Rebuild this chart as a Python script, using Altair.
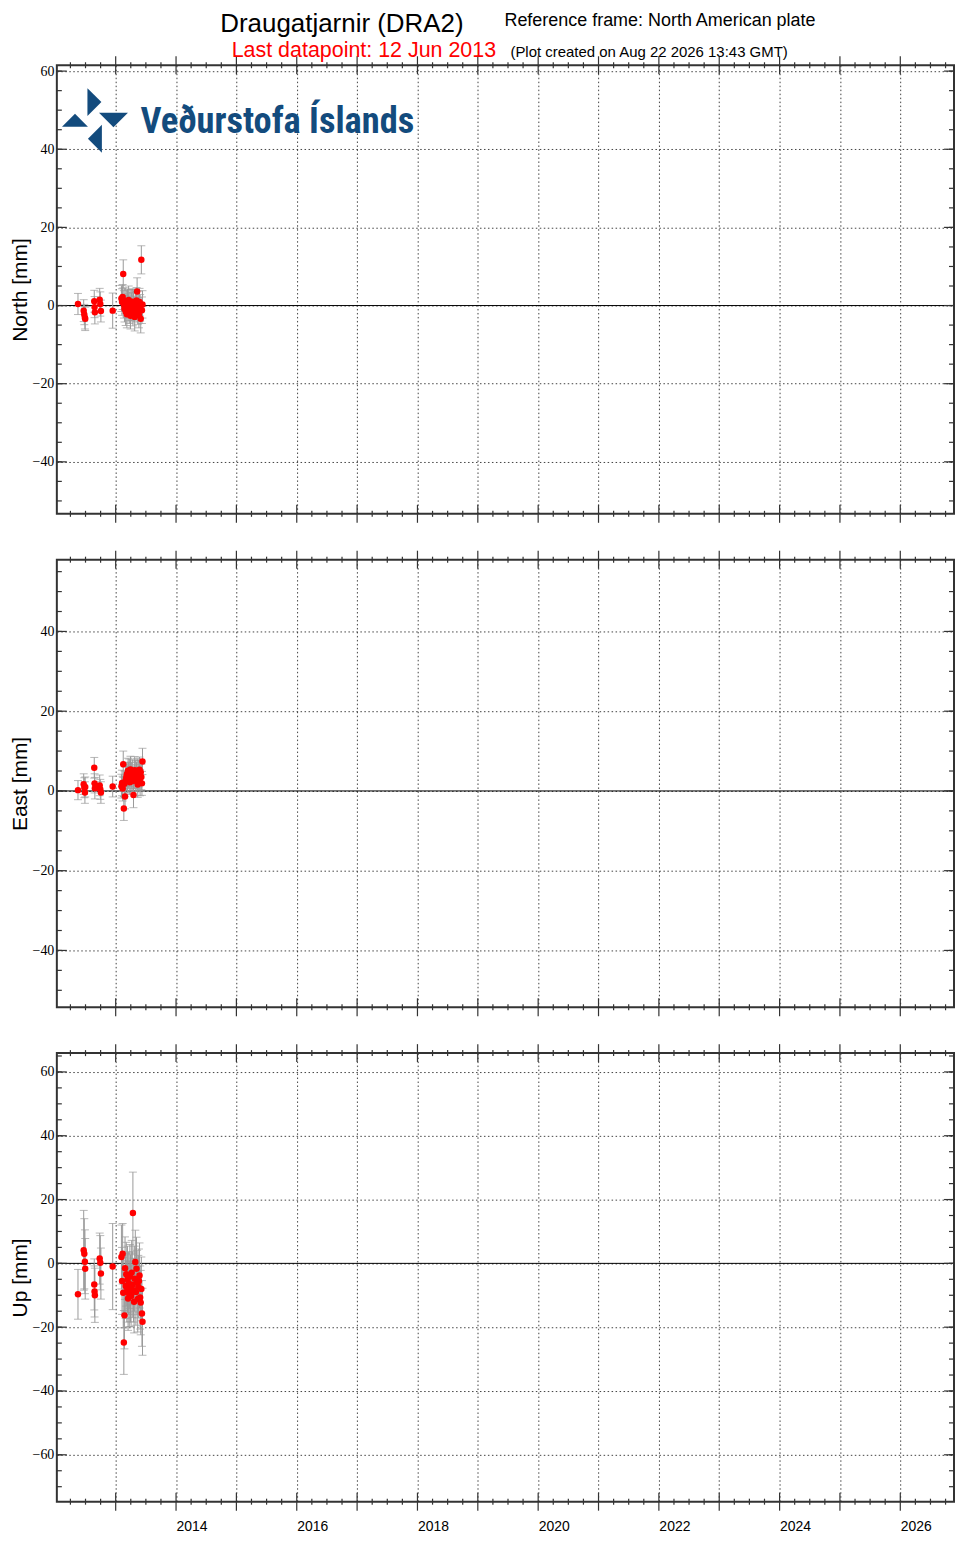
import altair as alt
import pandas as pd

# ---------------- data ----------------
dates = [2012.375, 2012.47, 2012.48, 2012.49, 2012.495, 2012.645, 2012.65, 2012.655,
         2012.735, 2012.745, 2012.755, 2012.95,
         2013.095, 2013.105, 2013.115, 2013.125, 2013.135, 2013.145, 2013.155, 2013.165,
         2013.175, 2013.185, 2013.195, 2013.205, 2013.215, 2013.225, 2013.235, 2013.245,
         2013.255, 2013.265, 2013.275, 2013.285, 2013.295, 2013.305, 2013.315, 2013.325,
         2013.335, 2013.345, 2013.355, 2013.365, 2013.375, 2013.385, 2013.395, 2013.405,
         2013.415, 2013.425, 2013.435, 2013.444]

north = [0.4, -1.3, -2.3, -3.1, -3.4, 1.1, -0.4, -1.7, 1.5, 0.4, -1.4, -1.3,
         1.8, 0.9, 2.2, 8.1, 0.3, -0.8, 1.2, -1.5, 0.5, -2.2, 0.8, -0.4,
         1.4, -1.1, 0.2, -2.6, 0.6, -0.3, 1.0, -1.8, 0.4, -0.9, -2.9, 0.7,
         -0.2, 1.3, 3.6, -1.4, 0.1, -2.4, 0.9, -0.6, -3.4, 11.7, -1.2, 0.3]
north_err = [2.7, 2.8, 2.6, 2.9, 3.0, 2.8, 2.7, 3.0, 2.9, 3.1, 2.8, 4.5,
             3.3, 3.4, 3.2, 3.6, 3.5, 3.4, 3.3, 3.6, 3.4, 3.5, 3.3, 3.4,
             3.6, 3.5, 3.3, 3.4, 3.5, 3.6, 3.3, 3.4, 3.5, 3.3, 3.6, 3.4,
             3.5, 3.3, 3.5, 3.4, 3.6, 3.3, 3.5, 3.4, 3.6, 3.6, 3.4, 3.5]

east = [0.2, 1.7, 0.8, -0.4, 1.0, 5.8, 1.9, 0.7, 1.4, 0.4, -0.4, 1.1,
        1.2, 2.0, 0.6, 6.7, -4.4, 1.8, -1.4, 2.6, 3.4, 4.2, 2.9, 5.1,
        3.8, 4.6, 2.2, 5.4, 3.1, 4.0, 4.8, 2.5, -1.0, 3.6, 5.2, 4.4,
        2.8, 3.9, 5.0, 1.6, 4.3, 3.2, 5.3, 2.1, 4.7, 3.5, 1.9, 7.4]
east_err = [2.4, 2.6, 2.5, 2.7, 2.5, 2.6, 2.4, 2.7, 2.6, 2.5, 2.7, 2.6,
            3.0, 3.2, 3.1, 3.3, 3.0, 3.2, 3.1, 3.4, 3.2, 3.0, 3.3, 3.1,
            3.2, 3.4, 3.0, 3.3, 3.1, 3.2, 3.0, 3.3, 3.2, 3.1, 3.4, 3.2,
            3.0, 3.3, 3.1, 3.2, 3.4, 3.0, 3.2, 3.3, 3.1, 3.2, 3.0, 3.3]

up = [-9.7, 4.1, 3.0, 0.5, -1.7, -6.6, -8.8, -10.0, 1.5, 0.2, -3.2, -1.0,
      2.0, -5.5, 3.0, -9.2, -24.8, -16.3, -1.5, -7.1, -3.4, -8.8, -5.0, -11.0,
      -6.2, -9.6, -4.1, -7.8, -10.2, -2.9, -6.7, 15.8, -8.4, -12.0, -4.8, 0.4,
      -9.0, -1.7, -6.0, -11.2, -7.3, -5.5, -3.8, -10.7, -12.3, -8.0, -15.7, -18.3]
up_err = [7.8, 12.5, 11.0, 10.0, 9.5, 8.0, 8.0, 8.5, 8.0, 8.5, 8.0, 13.5,
          10.0, 10.5, 9.5, 11.0, 10.0, 10.5, 9.8, 10.2, 10.0, 9.6, 10.4, 10.0,
          9.8, 10.2, 10.0, 10.5, 9.7, 10.1, 10.3, 12.8, 10.0, 9.8, 10.2, 10.0,
          10.4, 9.9, 10.1, 10.3, 9.8, 10.0, 10.2, 9.9, 10.1, 10.0, 10.3, 10.5]

year_ticks = list(range(2013, 2027))
quarter_ticks = [y + q / 4 for y in range(2012, 2027) for q in (1, 2, 3)]

north_major = [-40, -20, 0, 20, 40, 60]
north_minor = list(range(-50, 61, 5))
east_major = [-40, -20, 0, 20, 40]
east_minor = list(range(-50, 56, 5))
up_major = [-60, -40, -20, 0, 20, 40, 60]
up_minor = list(range(-70, 66, 5))

# ---------------- layout constants ----------------
W = 900
XDOM = [2012.025, 2026.89]
FRAME = "#333333"
GRIDC = "#222222"
SANS = "Liberation Sans"
SERIF = "Liberation Serif"
LOGO_BLUE = "#134b7d"

xs = alt.Scale(domain=XDOM, nice=False, zero=False)


def panel(vals, errs, title, domain, major, minor, height, show_labels, extra=None):
    df = pd.DataFrame({
        "date": dates,
        "val": vals,
        "lo": [v - e for v, e in zip(vals, errs)],
        "hi": [v + e for v, e in zip(vals, errs)],
    })
    ys = alt.Scale(domain=domain, nice=False, zero=False)
    x_axis = alt.Axis(values=year_ticks, grid=True, ticks=False, domain=False,
                      labels=show_labels, format="d",
                      labelExpr="datum.value % 2 == 0 ? datum.label : ''",
                      labelAlign="left", labelBaseline="top", labelPadding=18,
                      labelFont=SANS, labelFontSize=14, labelColor="black",
                      labelFlush=False, labelOverlap=False, labelBound=False,
                      gridDash=[1.5, 2.5], gridColor=GRIDC, gridOpacity=0.85)
    y_axis = alt.Axis(values=major, grid=True, ticks=False, domain=False, format="d",
                      labelFont=SERIF, labelFontSize=14, labelColor="black",
                      labelPadding=3, labelFlush=False, labelOverlap=False,
                      gridDash=[1.5, 2.5], gridColor=GRIDC, gridOpacity=0.85,
                      titleFont=SANS, titleFontSize=21,
                      titleFontWeight="normal", titleColor="black", titlePadding=2)

    def X(f):
        return alt.X(f, scale=xs, axis=x_axis, title=None)

    def Y(f):
        return alt.Y(f, scale=ys, axis=y_axis, title=title)

    base = alt.Chart(df)
    zero = alt.Chart(pd.DataFrame({"z": [0]})).mark_rule(color="black", strokeWidth=1).encode(
        y=Y("z:Q"))
    bars = base.mark_rule(color="#9a9a9a", strokeWidth=1).encode(
        x=X("date:Q"), y=Y("lo:Q"), y2="hi:Q")
    cap_lo = base.mark_tick(orient="horizontal", size=8, thickness=1, color="#9a9a9a").encode(
        x=X("date:Q"), y=Y("lo:Q"))
    cap_hi = base.mark_tick(orient="horizontal", size=8, thickness=1, color="#9a9a9a").encode(
        x=X("date:Q"), y=Y("hi:Q"))
    pts = base.mark_circle(color="#ff0000", size=42, opacity=1).encode(
        x=X("date:Q"), y=Y("val:Q"))

    xmaj = alt.Chart(pd.DataFrame({"t": year_ticks}))
    xmin = alt.Chart(pd.DataFrame({"t": quarter_ticks}))
    ymaj = alt.Chart(pd.DataFrame({"t": major}))
    ymin = alt.Chart(pd.DataFrame({"t": minor}))
    xe = X("t:Q")
    ye = Y("t:Q")
    tick_layers = [
        xmaj.mark_rule(color=FRAME, strokeWidth=1.2).encode(x=xe, y=alt.value(height - 9), y2=alt.value(height + 9)),
        xmaj.mark_rule(color=FRAME, strokeWidth=1.2).encode(x=xe, y=alt.value(-9), y2=alt.value(9)),
        xmin.mark_rule(color=FRAME, strokeWidth=1.2).encode(x=xe, y=alt.value(height - 3), y2=alt.value(height + 3)),
        xmin.mark_rule(color=FRAME, strokeWidth=1.2).encode(x=xe, y=alt.value(-3), y2=alt.value(3)),
        ymaj.mark_rule(color=FRAME, strokeWidth=1.2).encode(y=ye, x=alt.value(0), x2=alt.value(10)),
        ymaj.mark_rule(color=FRAME, strokeWidth=1.2).encode(y=ye, x=alt.value(W - 10), x2=alt.value(W)),
        ymin.mark_rule(color=FRAME, strokeWidth=1.2).encode(y=ye, x=alt.value(0), x2=alt.value(5)),
        ymin.mark_rule(color=FRAME, strokeWidth=1.2).encode(y=ye, x=alt.value(W - 5), x2=alt.value(W)),
    ]
    layers = [zero, bars, cap_lo, cap_hi, pts] + tick_layers + (extra or [])
    return alt.layer(*layers).properties(width=W, height=height)


one = pd.DataFrame({"a": [0]})


def label(text, x, y, size, color="black", align="left", font=SANS, weight="normal"):
    return alt.Chart(one).mark_text(
        text=text, align=align, baseline="alphabetic", fontSize=size, font=font,
        fontWeight=weight, color=color).encode(x=alt.value(x), y=alt.value(y))


def tri(path, x, y, size):
    return alt.Chart(one).mark_point(
        shape=path, filled=True, size=size, color=LOGO_BLUE, opacity=1, strokeWidth=0
    ).encode(x=alt.value(x), y=alt.value(y))


header = [
    label("Draugatjarnir (DRA2)", 286, -33, 26, align="center"),
    label("Reference frame: North American plate", 449, -39, 18),
    label("Last datapoint: 12 Jun 2013", 308, -8, 21.5, color="#ff0000", align="center"),
    label("(Plot created on Aug 22 2026 13:43 GMT)", 455, -8, 15),
    tri("M -0.5 -1 L 0.5 0 L -0.5 1 Z", 37.7, 37, 784),
    tri("M -1 -0.5 L 1 -0.5 L 0 0.5 Z", 56.8, 55, 841),
    tri("M 0.5 -1 L 0.5 1 L -0.5 0 Z", 38.2, 73.8, 784),
    tri("M -1 0.5 L 1 0.5 L 0 -0.5 Z", 18.2, 55.2, 676),
    label("Veðurstofa Íslands", 84, 68, 36.5, color=LOGO_BLUE,
          font="Liberation Sans Narrow, Roboto Condensed, Roboto", weight="bold"),
]

p1 = panel(north, north_err, "North [mm]", [-53.3, 61.5], north_major, north_minor, 450, False, header)
p2 = panel(east, east_err, "East [mm]", [-54.25, 58.0], east_major, east_minor, 449, False)
p3 = panel(up, up_err, "Up [mm]", [-74.7, 65.9], up_major, up_minor, 450, True)

chart = alt.vconcat(p1, p2, p3, spacing=24).properties(
    padding={"left": 0, "top": 0, "right": 0, "bottom": 0}
).configure(background="white").configure_view(stroke=FRAME, strokeWidth=2)

chart.save("out.html", embed_options={"renderer": "svg", "actions": False})
